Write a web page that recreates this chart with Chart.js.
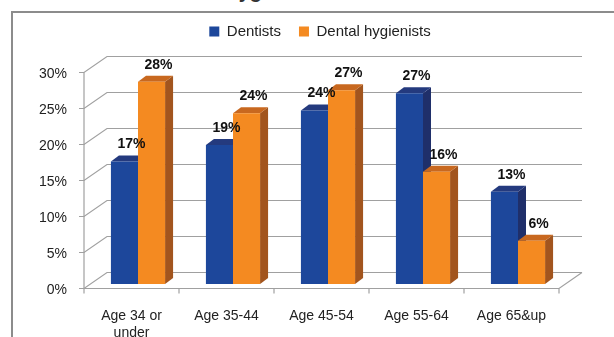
<!DOCTYPE html>
<html>
<head>
<meta charset="utf-8">
<title>Dentists and Dental Hygienists</title>
<script src="https://cdn.jsdelivr.net/npm/chart.js@4.4.1/dist/chart.umd.min.js"></script>
<style>
  body { margin: 0; background: #fff; overflow: hidden; }
  #wrap { position: relative; width: 614px; height: 337px; overflow: hidden; }
  #title { position: absolute; left: 32px; top: -19.5px; font: bold 20px 'Liberation Sans', Arial, sans-serif; line-height: 20px; color: #333; white-space: nowrap; }
  #frame { position: absolute; left: 11px; top: 11px; right: -5px; bottom: -5px; border-left: 2px solid #8c8c8c; border-top: 2px solid #8c8c8c; }
  #my-chart { position: absolute; left: 0; top: 0; }
</style>
</head>
<body>
<div id="wrap">
  <div id="title">Dentists and Dental Hygienists</div>
  <div id="frame"></div>
  <canvas id="my-chart" width="614" height="337"></canvas>
</div>
<script>
'use strict';

// DATA
let categories = [['Age 34 or', 'under'], 'Age 35-44', 'Age 45-54', 'Age 55-64', 'Age 65&up'];
let seriesNames = ['Dentists', 'Dental hygienists'];
let dentists = [17.0, 19.3, 24.1, 26.5, 12.8];
let hygienists = [28.1, 23.7, 26.9, 15.6, 6.0];
let yTicks = [0, 5, 10, 15, 20, 25, 30];

// colours: front, side, top
let blueFaces = ['#1d479b', '#1f2f6a', '#243a7e'];
let orangeFaces = ['#f48a21', '#a2551e', '#c8681f'];
let gridColor = '#a0a0a0';

// 3D offsets (px) measured from the plane the bars sit in
let frontOff = [-6.5, 4.5];
let backOff = [16.5, -11.5];
let barDepth = [8, 6];
let legendShift = -8;

Chart.defaults.font.family = "'Liberation Sans', Arial, sans-serif";

let ctx = document.getElementById('my-chart');

function poly(c, pts, fill) {
  c.beginPath();
  c.moveTo(pts[0][0], pts[0][1]);
  for (let i = 1; i < pts.length; i++) {
    c.lineTo(pts[i][0], pts[i][1]);
  }
  c.closePath();
  c.fillStyle = fill;
  c.fill();
}

// draws walls, floor, axis line and the bar sides/tops
let depthPlugin = {
  id: 'depth3d',
  afterLayout(chart) {
    // nudge legend a bit left like the original
    chart.legend.left += legendShift;
    chart.legend.right += legendShift;
  },
  beforeDatasetsDraw(chart) {
    let c = chart.ctx;
    let xs = chart.scales.x;
    let ys = chart.scales.y;
    let area = chart.chartArea;
    c.save();
    c.strokeStyle = gridColor;
    c.lineWidth = 1.2;

    // back wall lines + left side diagonals
    ys.ticks.forEach(t => {
      let y = ys.getPixelForValue(t.value);
      c.beginPath();
      c.moveTo(area.left + frontOff[0] - 5, y + frontOff[1]);
      c.lineTo(area.left + frontOff[0], y + frontOff[1]);
      c.lineTo(area.left + backOff[0], y + backOff[1]);
      c.lineTo(area.right + backOff[0], y + backOff[1]);
      c.stroke();
    });

    // floor front edge + right edge
    let y0 = ys.getPixelForValue(0);
    let yTop = ys.getPixelForValue(ys.max);
    c.beginPath();
    c.moveTo(area.left + frontOff[0], y0 + frontOff[1]);
    c.lineTo(area.right + frontOff[0], y0 + frontOff[1]);
    c.lineTo(area.right + backOff[0], y0 + backOff[1]);
    c.stroke();

    // front value axis
    c.beginPath();
    c.moveTo(area.left + frontOff[0], yTop + frontOff[1]);
    c.lineTo(area.left + frontOff[0], y0 + frontOff[1]);
    c.stroke();

    // category ticks
    let half = (xs.getPixelForValue(1) - xs.getPixelForValue(0)) / 2;
    for (let i = 0; i <= categories.length; i++) {
      let x = xs.getPixelForValue(i) - half + frontOff[0];
      c.beginPath();
      c.moveTo(x, y0 + frontOff[1]);
      c.lineTo(x, y0 + frontOff[1] + 5);
      c.stroke();
    }

    // bar sides and tops
    chart.data.datasets.forEach((ds, di) => {
      let faces = ds.faces;
      chart.getDatasetMeta(di).data.forEach(bar => {
        let l = bar.x - bar.width / 2;
        let r = bar.x + bar.width / 2;
        let t = bar.y;
        let b = bar.base;
        let dx = barDepth[0];
        let dy = barDepth[1];
        poly(c, [[r, t], [r + dx, t - dy], [r + dx, b - dy], [r, b]], faces[1]);
        poly(c, [[l, t], [l + dx, t - dy], [r + dx, t - dy], [r, t]], faces[2]);
      });
    });
    c.restore();
  },
  afterDatasetsDraw(chart) {
    let c = chart.ctx;
    c.save();
    c.font = 'bold 14px ' + Chart.defaults.font.family;
    c.fillStyle = '#111';
    c.textAlign = 'center';
    c.textBaseline = 'middle';
    chart.data.datasets.forEach((ds, di) => {
      chart.getDatasetMeta(di).data.forEach((bar, i) => {
        c.fillText(Math.round(ds.data[i]) + '%', bar.x + 7, bar.y - 17);
      });
    });
    c.restore();
  }
};

let chartObject = {
  type: 'bar',
  data: {
    labels: categories,
    datasets: [{
      label: seriesNames[0],
      data: dentists,
      backgroundColor: blueFaces[0],
      faces: blueFaces,
      borderWidth: 0
    },
    {
      label: seriesNames[1],
      data: hygienists,
      backgroundColor: orangeFaces[0],
      faces: orangeFaces,
      borderWidth: 0
    }]
  },
  options: {
    responsive: false,
    animation: false,
    categoryPercentage: 0.57,
    barPercentage: 1.0,
    layout: {
      padding: { top: 6, right: 48.5, bottom: 0, left: 0 }
    },
    plugins: {
      legend: {
        fullSize: false,
        labels: {
          boxWidth: 10,
          boxHeight: 10,
          padding: 18,
          color: '#222',
          font: { size: 15 }
        }
      },
      subtitle: {
        // empty spacer between legend and plot
        display: true,
        text: '',
        weight: 500,
        font: { size: 10 },
        padding: { top: 0, bottom: 7 }
      },
      tooltip: { enabled: false }
    },
    scales: {
      x: {
        grid: { display: false, drawTicks: false },
        border: { display: false },
        ticks: {
          color: '#222',
          font: { size: 14 },
          padding: 23.5,
          labelOffset: -6.5,
          maxRotation: 0
        },
        afterFit(scale) { scale.height = 53; }
      },
      y: {
        min: yTicks[0],
        max: yTicks[yTicks.length - 1],
        grid: { display: false, drawTicks: false },
        border: { display: false },
        ticks: {
          stepSize: yTicks[1] - yTicks[0],
          color: '#222',
          font: { size: 14 },
          padding: 23.5,
          labelOffset: 6.5,
          callback: v => v + '%'
        },
        afterFit(scale) { scale.width = 90.5; }
      }
    }
  },
  plugins: [depthPlugin]
};

const myChart = new Chart(ctx, chartObject);
</script>
</body>
</html>
